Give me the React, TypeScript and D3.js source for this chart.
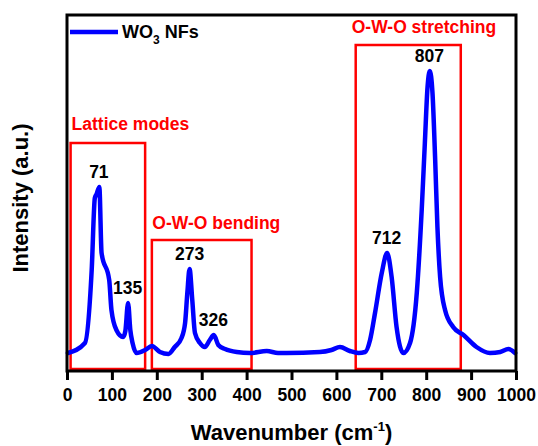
import React, { useEffect, useRef } from "react";
import * as d3 from "d3";

// Raman spectrum of WO3 nanofibers
const wavenumber = [2, 40, 55, 62, 66, 72, 77, 94, 99, 110, 125, 130, 136, 141, 146, 155, 174, 189, 207, 226, 240, 255, 263, 268, 273, 279, 285, 296, 307, 318, 327, 337, 352, 378, 408, 445, 470, 489, 563, 589, 608, 630, 649, 664, 675, 686, 701, 713, 723, 734, 749, 764, 779, 790, 797, 803, 808, 814, 820, 825, 831, 842, 860, 883, 912, 942, 965, 983, 998];
const intensity = [18, 28, 101, 173, 177, 184, 118, 91, 61, 41, 34, 40, 68, 41, 28, 18, 21, 25, 19, 17, 24, 33, 48, 78, 102, 71, 38, 28, 24, 31, 36, 26, 22, 19, 18, 20, 18, 18, 19, 21, 24, 20, 18, 19, 31, 58, 98, 118, 94, 44, 18, 28, 78, 161, 228, 284, 300, 278, 211, 144, 94, 61, 44, 36, 24, 18, 19, 22, 18];

const peaks = [71, 135, 273, 326, 712, 807];

const regionNames = ["Lattice modes", "O-W-O bending", "O-W-O stretching"];
const regionFrom = [8, 189, 643];
const regionTo = [174, 411, 877];
const regionTop = [228, 131, 326];

const xTicks = [0, 100, 200, 300, 400, 500, 600, 700, 800, 900, 1000];

const FONT = "'Liberation Sans', Arial, Helvetica, sans-serif";

function drawChart(node: SVGSVGElement) {
  const width = 538;
  const height = 446;
  const margin = { top: 15, left: 67, right: 22, bottom: 75 };

  const svg = d3.select(node);
  svg.selectAll("*").remove();
  svg.attr("width", width).attr("height", height);

  svg.append("rect").attr("width", width).attr("height", height).attr("fill", "#fff");

  const x = d3.scaleLinear().domain([0, 1000]).range([margin.left, width - margin.right]);
  const y = d3.scaleLinear().domain([0, 356]).range([height - margin.bottom, margin.top]);

  const data = wavenumber.map((w, i) => ({ w, v: intensity[i] }));

  // red region boxes
  regionNames.forEach((name, i) => {
    svg.append("rect")
      .attr("x", x(regionFrom[i]))
      .attr("y", y(regionTop[i]))
      .attr("width", x(regionTo[i]) - x(regionFrom[i]))
      .attr("height", y(2) - y(regionTop[i]))
      .attr("fill", "none")
      .attr("stroke", "#ff0000")
      .attr("stroke-width", 2.5);
  });

  // region labels, nudged to where they sit in the figure
  const labelDx = [1, 0.5, -4];
  const labelDy = [-13, -11, -12];
  regionNames.forEach((name, i) => {
    svg.append("text")
      .attr("x", x(regionFrom[i]) + labelDx[i])
      .attr("y", y(regionTop[i]) + labelDy[i])
      .attr("fill", "#ff0000")
      .style("font-family", FONT)
      .style("font-weight", "bold")
      .style("font-size", "17.5px")
      .text(name);
  });

  // spectrum
  const line = d3.line<{ w: number; v: number }>()
    .x(d => x(d.w))
    .y(d => y(d.v))
    .curve(d3.curveMonotoneX);

  svg.append("path")
    .datum(data)
    .attr("d", line)
    .attr("fill", "none")
    .attr("stroke", "#0000ff")
    .attr("stroke-width", 4.5)
    .attr("stroke-linejoin", "round")
    .attr("stroke-linecap", "round");

  // peak labels
  peaks.forEach(p => {
    const near = data.reduce((a, b) => (Math.abs(b.w - p) < Math.abs(a.w - p) ? b : a));
    svg.append("text")
      .attr("x", x(p))
      .attr("y", y(near.v) - 9)
      .attr("text-anchor", "middle")
      .style("font-family", FONT)
      .style("font-weight", "bold")
      .style("font-size", "17.5px")
      .text(p);
  });

  // x axis
  const xAxis = svg.append("g")
    .attr("transform", `translate(0,${height - margin.bottom})`)
    .call(d3.axisBottom(x).tickValues(xTicks).tickSize(9).tickPadding(8.5).tickFormat(d3.format("d")));
  xAxis.select(".domain").remove();
  xAxis.selectAll("line").attr("stroke", "#000").attr("stroke-width", 3);
  xAxis.selectAll("text")
    .style("font-family", FONT)
    .style("font-weight", "bold")
    .style("font-size", "17.5px")
    .attr("fill", "#000");

  // frame
  svg.append("rect")
    .attr("x", margin.left)
    .attr("y", margin.top)
    .attr("width", width - margin.left - margin.right)
    .attr("height", height - margin.top - margin.bottom)
    .attr("fill", "none")
    .attr("stroke", "#000")
    .attr("stroke-width", 3);

  // legend
  svg.append("line")
    .attr("x1", 70).attr("x2", 118)
    .attr("y1", 32).attr("y2", 32)
    .attr("stroke", "#0000ff")
    .attr("stroke-width", 4.5);
  const leg = svg.append("text")
    .attr("x", 122)
    .attr("y", 38)
    .style("font-family", FONT)
    .style("font-weight", "bold")
    .style("font-size", "18px");
  leg.append("tspan").text("WO");
  leg.append("tspan").attr("dy", 6).style("font-size", "12px").text("3");
  leg.append("tspan").attr("dy", -6).text(" NFs");

  // axis titles
  const xt = svg.append("text")
    .attr("x", x(500))
    .attr("y", 440)
    .attr("text-anchor", "middle")
    .style("font-family", FONT)
    .style("font-weight", "bold")
    .style("font-size", "22px");
  xt.append("tspan").text("Wavenumber (cm");
  xt.append("tspan").attr("dy", -9).style("font-size", "13px").text("-1");
  xt.append("tspan").attr("dy", 9).text(")");

  svg.append("text")
    .attr("transform", "translate(28,198) rotate(-90)")
    .attr("text-anchor", "middle")
    .style("font-family", FONT)
    .style("font-weight", "bold")
    .style("font-size", "22px")
    .text("Intensity (a.u.)");
}

export default function App() {
  const ref = useRef<SVGSVGElement>(null);

  useEffect(() => {
    if (ref.current) drawChart(ref.current);
  }, []);

  return (
    <svg ref={ref} style={{ position: "absolute", left: 0, top: 0, display: "block" }} />
  );
}
